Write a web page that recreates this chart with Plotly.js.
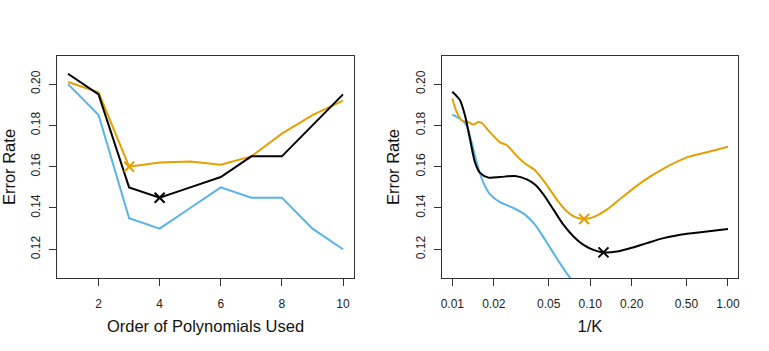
<!DOCTYPE html>
<html><head><meta charset="utf-8">
<script src="https://cdn.plot.ly/plotly-3.0.1.min.js"></script>
<style>html,body{margin:0;padding:0;background:#fff}#g{width:769px;height:351px}</style>
</head><body><div id="g"></div>
<script>
// Left panel: logistic regression, polynomial order
const order = [1,2,3,4,5,6,7,8,9,10];
const polyTest  = [0.201,0.196,0.160,0.162,0.1625,0.161,0.165,0.176,0.185,0.192];
const polyTrain = [0.200,0.185,0.135,0.130,0.140,0.150,0.145,0.145,0.130,0.120];
const polyCV    = [0.205,0.195,0.150,0.145,0.150,0.155,0.165,0.165,0.180,0.195];
const polyTestMin = {x:3, y:0.160};
const polyCVMin = {x:4, y:0.145};

// Right panel: KNN, 1/K
const invKTest  = [0.01,0.01075,0.0117,0.01306,0.01422,0.01546,0.0166,0.0183,0.0222,0.0248,0.0285,0.0337,0.0398,0.0471,0.0573,0.0677,0.0778,0.0904,0.1057,0.132,0.1746,0.2438,0.341,0.504,0.703,1.0];
const knnTest   = [0.193,0.1865,0.1824,0.1816,0.1804,0.1816,0.1808,0.1775,0.1718,0.1705,0.1661,0.1615,0.1583,0.1523,0.1441,0.1384,0.1356,0.1347,0.1356,0.1392,0.1457,0.1531,0.1591,0.1645,0.167,0.1697];
const invKTrain = [0.01,0.01137,0.0127,0.0138,0.01503,0.0168,0.0188,0.0222,0.0277,0.0337,0.0398,0.0471,0.0573,0.0677,0.0736,0.08];
const knnTrain  = [0.1852,0.1832,0.180,0.1718,0.162,0.1523,0.1466,0.1428,0.140,0.1368,0.1319,0.1246,0.1156,0.1083,0.105,0.100];
const invKCV    = [0.01,0.01137,0.01236,0.01343,0.01462,0.0159,0.0183,0.0222,0.0285,0.0347,0.0398,0.0458,0.0542,0.064,0.0757,0.0895,0.1057,0.125,0.156,0.195,0.258,0.341,0.504,0.703,1.0];
const knnCV     = [0.1963,0.1922,0.1848,0.1734,0.162,0.157,0.1547,0.155,0.1555,0.1539,0.1514,0.1466,0.1392,0.1319,0.1262,0.1221,0.1197,0.1185,0.1189,0.1205,0.123,0.1254,0.1275,0.1286,0.1298];
const knnTestMin = {x:0.0904, y:0.1347};
const knnCVMin = {x:0.125, y:0.1185};

const yTicks = [0.12,0.14,0.16,0.18,0.20];
const yTickText = ["0.12","0.14","0.16","0.18","0.20"];
const xTicksL = [2,4,6,8,10];
const xTicksR = [0.01,0.02,0.05,0.10,0.20,0.50,1.00];
const xTickTextR = ["0.01","0.02","0.05","0.10","0.20","0.50","1.00"];

const ORANGE = '#E69F00', BLUE = '#56B4E9', BLACK = '#000000';
const W = 769, H = 351;

function line(x,y,c,xa,ya,shape){return {x:x,y:y,mode:'lines',type:'scatter',xaxis:xa,yaxis:ya,
  line:{color:c,width:2,shape:shape||'linear',smoothing:0.7},hoverinfo:'skip',showlegend:false};}
function mark(p,c,xa,ya){return {x:[p.x],y:[p.y],mode:'markers',type:'scatter',xaxis:xa,yaxis:ya,
  marker:{symbol:'x-thin-open',size:10,color:c,line:{color:c,width:2}},showlegend:false,cliponaxis:false};}

const data = [
  line(order,polyTrain,BLUE,'x','y'),
  line(order,polyTest,ORANGE,'x','y'),
  line(order,polyCV,BLACK,'x','y'),
  mark(polyTestMin,ORANGE,'x','y'),
  mark(polyCVMin,BLACK,'x','y'),
  line(invKTrain,knnTrain,BLUE,'x2','y2','spline'),
  line(invKTest,knnTest,ORANGE,'x2','y2','spline'),
  line(invKCV,knnCV,BLACK,'x2','y2','spline'),
  mark(knnTestMin,ORANGE,'x2','y2'),
  mark(knnCVMin,BLACK,'x2','y2')
];

const font = {family:'"Liberation Sans", Arial, sans-serif', color:'#000', size:12};
const ydom = [(H-278)/H, (H-56)/H];
function yax(anchor){return {domain:ydom, anchor:anchor, range:[0.1061,0.2136], tickvals:yTicks, ticktext:yTickText,
  tickangle:-90, ticks:'outside', ticklen:7, tickwidth:1, tickcolor:'#333', showline:true, linecolor:'#333', linewidth:1, mirror:true,
  showgrid:false, zeroline:false, automargin:false, tickfont:{size:12,color:'#222'}, ticklabelstandoff:4,
  title:{text:'Error Rate', font:{size:16.5,color:'#111'}, standoff:10}};}
function xax(dom,anchor){return {domain:dom, anchor:anchor, ticks:'outside', ticklen:7, tickwidth:1, tickcolor:'#333',
  showline:true, linecolor:'#333', linewidth:1, mirror:true, showgrid:false, zeroline:false, automargin:false,
  tickfont:{size:12,color:'#222'}, ticklabelstandoff:8};}

const layout = {
  width:W, height:H, margin:{l:0,r:0,t:0,b:0}, paper_bgcolor:'#fff', plot_bgcolor:'#fff', font:font, showlegend:false,
  xaxis: Object.assign(xax([57/W,354/W],'y'), {range:[0.64,10.36], tickvals:xTicksL, ticktext:xTicksL.map(String),
    title:{text:'Order of Polynomials Used', font:{size:16.5,color:'#111'}, standoff:10}}),
  yaxis: yax('x'),
  xaxis2: Object.assign(xax([441.7/W,738.3/W],'y2'), {type:'log', range:[-2.077,0.075], tickvals:xTicksR, ticktext:xTickTextR,
    title:{text:'1/K', font:{size:16.5,color:'#111'}, standoff:10}}),
  yaxis2: yax('x2')
};
Plotly.newPlot('g', data, layout, {staticPlot:true});
</script></body></html>
